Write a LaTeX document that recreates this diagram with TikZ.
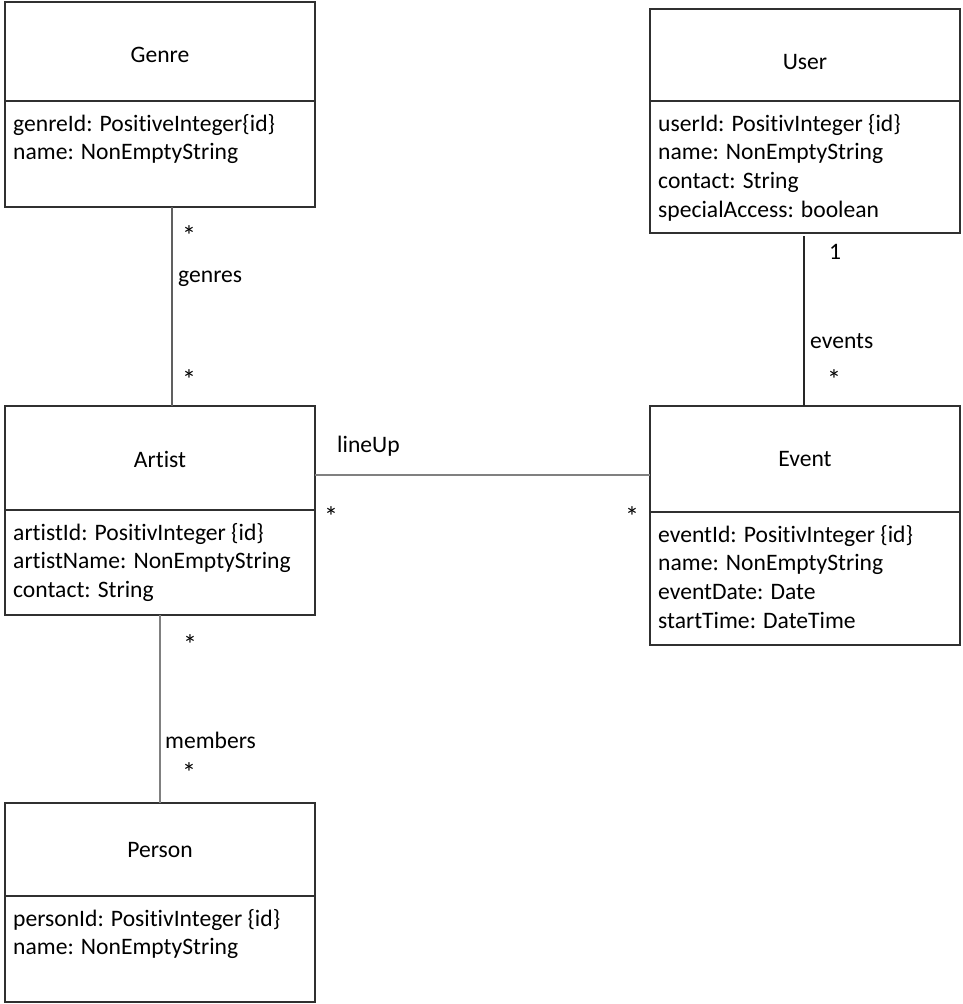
\documentclass[tikz,border=0pt]{standalone}
\usepackage{fontspec}
\setmainfont{Carlito}[Ligatures=CommonOff]
\definecolor{boxc}{HTML}{303030}
\definecolor{linec}{HTML}{606060}
\definecolor{lightline}{HTML}{808080}
\begin{document}
\begin{tikzpicture}[x=1pt,y=-1pt,
  every node/.style={font=\fontsize{23.6}{28.7}\selectfont, text=black},
  comp/.style={draw=boxc, line width=1.1pt, minimum width=310pt, inner sep=0pt, outer sep=0pt, anchor=north west},
  ttl/.style={inner sep=0pt},
  attr/.style={inner sep=0pt, anchor=north west, align=left},
  mult/.style={inner sep=0pt},
  star/.style={inner sep=0pt, font=\fontsize{28}{28}\selectfont},
  assoc/.style={line width=1.2pt, draw=linec}
]
\useasboundingbox (0,0) rectangle (962,1004);
\fill[white] (0,0) rectangle (962,1004);

% Genre
\node[comp, minimum height=99pt] (genreT) at (5,2) {};
\node[comp, minimum height=106pt] (genreA) at (5,101) {};
\node[ttl] (genreN) at (160,54.5) {Genre};
\node[attr] (genreL) at ([shift={(8,13)}]genreA.north west) {genreId: PositiveInteger\{id\}\\name: NonEmptyString};

% User
\node[comp, minimum height=92pt] (userT) at (650,9) {};
\node[comp, minimum height=132pt] (userA) at (650,101) {};
\node[ttl] (userN) at (805,62) {User};
\node[attr] (userL) at ([shift={(8,13)}]userA.north west) {userId: PositivInteger \{id\}\\name: NonEmptyString\\contact: String\\specialAccess: boolean};

% Artist
\node[comp, minimum height=104pt] (artistT) at (5,406) {};
\node[comp, minimum height=105pt] (artistA) at (5,510) {};
\node[ttl] (artistN) at (160,459) {Artist};
\node[attr] (artistL) at ([shift={(8,13)}]artistA.north west) {artistId: PositivInteger \{id\}\\artistName: NonEmptyString\\contact: String};

% Event
\node[comp, minimum height=106pt] (eventT) at (650,406) {};
\node[comp, minimum height=133pt] (eventA) at (650,512) {};
\node[ttl] (eventN) at (805,459) {Event};
\node[attr] (eventL) at ([shift={(8,13)}]eventA.north west) {eventId: PositivInteger \{id\}\\name: NonEmptyString\\eventDate: Date\\startTime: DateTime};

% Person
\node[comp, minimum height=93pt] (personT) at (5,803) {};
\node[comp, minimum height=106pt] (personA) at (5,896) {};
\node[ttl] (personN) at (160,850) {Person};
\node[attr] (personL) at ([shift={(8,13)}]personA.north west) {personId: PositivInteger \{id\}\\name: NonEmptyString};

% associations
\draw[assoc, line width=1.1pt, draw=linec] ([xshift=12pt]genreA.south) -- ([xshift=12pt]artistT.north);
\draw[assoc, line width=2pt, draw=black!85, shorten <=3pt] ([xshift=-1.5pt]userA.south) -- ([xshift=-1.5pt]eventT.north);
\draw[assoc, line width=2pt, draw=lightline] ([yshift=-17pt]artistT.east) -- ([yshift=-17pt]artistT.east -| eventT.west);
\draw[assoc, line width=1.6pt, draw=lightline] (artistA.south) -- (personT.north);

% labels
\node[star] (m1) at (189,236) {*};
\node[mult, anchor=west] (genresL) at (178,279) {genres};
\node[star] (m2) at (189,380) {*};

\node[mult, anchor=west] (lineUpL) at (337,446) {lineUp};
\node[star] (m3) at (331,517) {*};
\node[star] (m4) at (632,517) {*};

\node[mult] (m5) at (835,252) {1};
\node[mult, anchor=west] (eventsL) at (810,341) {events};
\node[star] (m6) at (834,380) {*};

\node[star] (m7) at (190,645) {*};
\node[mult, anchor=west] (membersL) at (165,740) {members};
\node[star] (m8) at (189,773) {*};
\end{tikzpicture}
\end{document}
